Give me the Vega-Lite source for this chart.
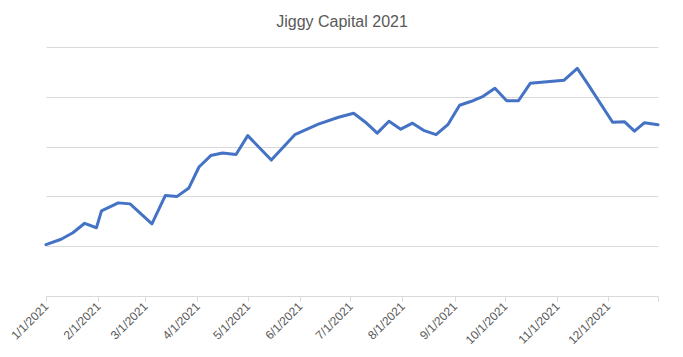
{
  "$schema": "https://vega.github.io/schema/vega-lite/v6.json",
  "width": 612,
  "height": 249,
  "autosize": {"type": "none"},
  "padding": {"left": 46, "top": 47, "right": 25, "bottom": 61},
  "background": "white",
  "title": {
    "text": "Jiggy Capital 2021",
    "font": "Liberation Sans",
    "fontSize": 16,
    "fontWeight": "normal",
    "color": "#595959",
    "anchor": "middle",
    "dx": -10,
    "dy": 16,
    "baseline": "alphabetic",
    "offset": 20
  },
  "config": {
    "view": {"stroke": null},
    "font": "Liberation Sans"
  },
  "data": {
    "values": [
      {"date": "2021-01-01", "value": 1.03},
      {"date": "2021-01-10", "value": 1.14},
      {"date": "2021-01-17", "value": 1.27},
      {"date": "2021-01-24", "value": 1.46},
      {"date": "2021-01-31", "value": 1.37},
      {"date": "2021-02-03", "value": 1.71},
      {"date": "2021-02-13", "value": 1.87},
      {"date": "2021-02-20", "value": 1.85},
      {"date": "2021-03-05", "value": 1.45},
      {"date": "2021-03-13", "value": 2.02},
      {"date": "2021-03-20", "value": 2.0},
      {"date": "2021-03-27", "value": 2.17},
      {"date": "2021-04-02", "value": 2.59},
      {"date": "2021-04-09", "value": 2.82},
      {"date": "2021-04-16", "value": 2.87},
      {"date": "2021-04-24", "value": 2.84},
      {"date": "2021-05-01", "value": 3.22},
      {"date": "2021-05-15", "value": 2.73},
      {"date": "2021-05-29", "value": 3.24},
      {"date": "2021-06-12", "value": 3.45},
      {"date": "2021-06-24", "value": 3.59},
      {"date": "2021-07-03", "value": 3.67},
      {"date": "2021-07-10", "value": 3.49},
      {"date": "2021-07-17", "value": 3.27},
      {"date": "2021-07-24", "value": 3.51},
      {"date": "2021-07-31", "value": 3.35},
      {"date": "2021-08-07", "value": 3.47},
      {"date": "2021-08-14", "value": 3.32},
      {"date": "2021-08-21", "value": 3.24},
      {"date": "2021-08-28", "value": 3.44},
      {"date": "2021-09-04", "value": 3.83},
      {"date": "2021-09-11", "value": 3.91},
      {"date": "2021-09-18", "value": 4.01},
      {"date": "2021-09-25", "value": 4.17},
      {"date": "2021-10-02", "value": 3.92},
      {"date": "2021-10-09", "value": 3.92},
      {"date": "2021-10-16", "value": 4.27},
      {"date": "2021-11-05", "value": 4.33},
      {"date": "2021-11-13", "value": 4.57},
      {"date": "2021-11-19", "value": 4.27},
      {"date": "2021-12-04", "value": 3.49},
      {"date": "2021-12-11", "value": 3.5},
      {"date": "2021-12-17", "value": 3.31},
      {"date": "2021-12-23", "value": 3.48},
      {"date": "2021-12-31", "value": 3.44}
    ]
  },
  "mark": {"type": "line", "color": "#4472C4", "strokeWidth": 3, "strokeJoin": "round", "strokeCap": "round"},
  "encoding": {
    "x": {
      "field": "date",
      "type": "temporal",
      "scale": {"type": "utc", "domain": [{"year": 2021, "month": 1, "date": 1, "utc": true}, {"year": 2021, "month": 12, "date": 31, "utc": true}], "nice": false},
      "axis": {
        "title": null,
        "grid": false,
        "values": [
          {"year": 2021, "month": 1, "date": 1, "utc": true},
          {"year": 2021, "month": 2, "date": 1, "utc": true},
          {"year": 2021, "month": 3, "date": 1, "utc": true},
          {"year": 2021, "month": 4, "date": 1, "utc": true},
          {"year": 2021, "month": 5, "date": 1, "utc": true},
          {"year": 2021, "month": 6, "date": 1, "utc": true},
          {"year": 2021, "month": 7, "date": 1, "utc": true},
          {"year": 2021, "month": 8, "date": 1, "utc": true},
          {"year": 2021, "month": 9, "date": 1, "utc": true},
          {"year": 2021, "month": 10, "date": 1, "utc": true},
          {"year": 2021, "month": 11, "date": 1, "utc": true},
          {"year": 2021, "month": 12, "date": 1, "utc": true},
          {"year": 2021, "month": 12, "date": 31, "utc": true}
        ],
        "labelExpr": "datum.value > 1638403200000 ? '' : utcFormat(datum.value, '%-m/%-d/%Y')",
        "labelAngle": -45,
        "labelAlign": "right",
        "labelBaseline": "middle",
        "labelFontSize": 12,
        "labelColor": "#595959",
        "labelPadding": 3,
        "labelOverlap": false,
        "labelFlush": false,
        "domainColor": "#D9D9D9",
        "domainWidth": 1,
        "tickColor": "#D9D9D9",
        "tickSize": 5,
        "tickWidth": 1
      }
    },
    "y": {
      "field": "value",
      "type": "quantitative",
      "scale": {"domain": [0, 5], "nice": false, "zero": true},
      "axis": {
        "title": null,
        "labels": false,
        "ticks": false,
        "domain": false,
        "values": [1, 2, 3, 4, 5],
        "grid": true,
        "gridColor": "#D9D9D9",
        "gridWidth": 1
      }
    }
  }
}
